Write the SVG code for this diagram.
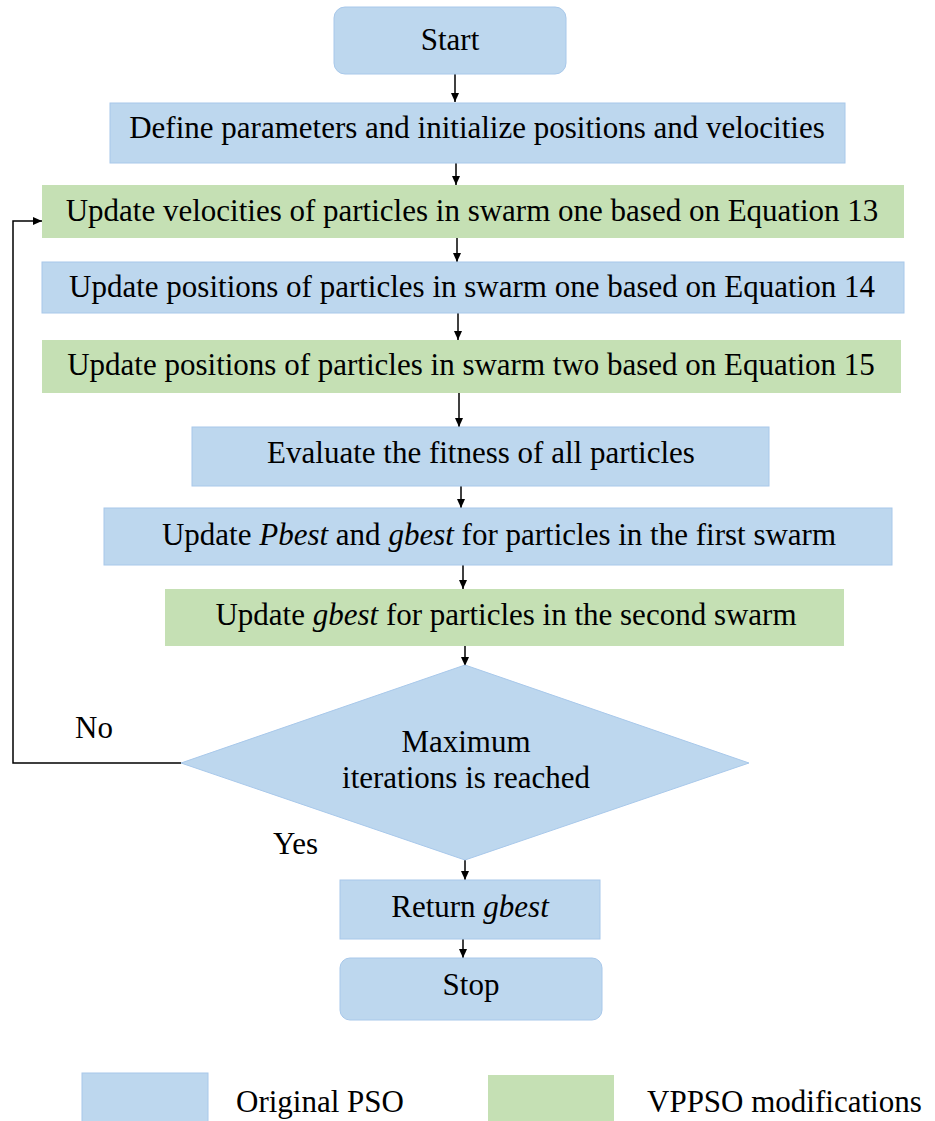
<svg xmlns="http://www.w3.org/2000/svg" width="935" height="1121" viewBox="0 0 935 1121">
<defs>
<marker id="ah" markerWidth="10" markerHeight="10" refX="9" refY="5" orient="auto" markerUnits="userSpaceOnUse">
<path d="M0,1 L9,5 L0,9 Z" fill="#000"/>
</marker>
<style>
.blue{fill:#BDD7EE;stroke:#A8C8EA;stroke-width:1}
.green{fill:#C5E0B4;stroke:none}
.t{font-size:31px;fill:#000;text-anchor:middle}
.it{font-style:italic}
.lab{text-anchor:start}
.conn{fill:none;stroke:#000;stroke-width:1.5}
</style>
</defs>
<rect width="935" height="1121" fill="#fff"/>
<g id="connectors">
<line class="conn" x1="455" y1="74" x2="455" y2="102" marker-end="url(#ah)"/>
<line class="conn" x1="456" y1="163" x2="456" y2="185" marker-end="url(#ah)"/>
<line class="conn" x1="457" y1="238" x2="457" y2="262" marker-end="url(#ah)"/>
<line class="conn" x1="458" y1="313" x2="458" y2="340" marker-end="url(#ah)"/>
<line class="conn" x1="459" y1="393" x2="459" y2="427" marker-end="url(#ah)"/>
<line class="conn" x1="461" y1="486" x2="461" y2="508" marker-end="url(#ah)"/>
<line class="conn" x1="463" y1="565" x2="463" y2="589" marker-end="url(#ah)"/>
<line class="conn" x1="465" y1="646" x2="465" y2="666" marker-end="url(#ah)"/>
<line class="conn" x1="465" y1="860" x2="465" y2="880" marker-end="url(#ah)"/>
<line class="conn" x1="463" y1="939" x2="463" y2="958" marker-end="url(#ah)"/>
<path class="conn" d="M181,763 H13 V221 H42" marker-end="url(#ah)"/>
</g>
<g font-family="'Liberation Serif', 'DejaVu Serif', serif">
<g id="start">
<rect class="blue" x="334" y="7" width="232" height="67" rx="11"/>
<text class="t" x="450" y="50">Start</text>
</g>
<g id="define">
<rect class="blue" x="110" y="103" width="735" height="60"/>
<text class="t" x="477" y="138">Define parameters and initialize positions and velocities</text>
</g>
<g id="update-velocities">
<rect class="green" x="42" y="185" width="862" height="53"/>
<text class="t" x="472" y="221">Update velocities of particles in swarm one based on Equation 13</text>
</g>
<g id="update-positions-one">
<rect class="blue" x="42" y="262" width="862" height="51"/>
<text class="t" x="472" y="297">Update positions of particles in swarm one based on Equation 14</text>
</g>
<g id="update-positions-two">
<rect class="green" x="42" y="340" width="859" height="53"/>
<text class="t" x="471" y="375">Update positions of particles in swarm two based on Equation 15</text>
</g>
<g id="evaluate">
<rect class="blue" x="192" y="427" width="577" height="59"/>
<text class="t" x="481" y="463">Evaluate the fitness of all particles</text>
</g>
<g id="update-pbest">
<rect class="blue" x="104" y="508" width="788" height="57"/>
<text class="t" x="499" y="545">Update <tspan class="it">Pbest</tspan> and <tspan class="it">gbest</tspan> for particles in the first swarm</text>
</g>
<g id="update-gbest">
<rect class="green" x="165" y="589" width="679" height="57"/>
<text class="t" x="506" y="625">Update <tspan class="it">gbest</tspan> for particles in the second swarm</text>
</g>
<g id="decision">
<polygon class="blue" points="465,665 749,763 465,860 181,763"/>
<text class="t" x="466" y="752">Maximum</text>
<text class="t" x="466" y="788">iterations is reached</text>
</g>
<text class="t lab" x="75" y="738">No</text>
<text class="t lab" x="273" y="854">Yes</text>
<g id="return">
<rect class="blue" x="340" y="880" width="260" height="59"/>
<text class="t" x="470" y="917">Return <tspan class="it">gbest</tspan></text>
</g>
<g id="stop">
<rect class="blue" x="340" y="958" width="262" height="62" rx="10"/>
<text class="t" x="471" y="995">Stop</text>
</g>
<g id="legend">
<rect class="blue" x="82" y="1073" width="126" height="50"/>
<text class="t lab" x="236" y="1112">Original PSO</text>
<rect class="green" x="488" y="1075" width="126" height="48"/>
<text class="t lab" x="647" y="1112">VPPSO modifications</text>
</g>
</g>
</svg>
